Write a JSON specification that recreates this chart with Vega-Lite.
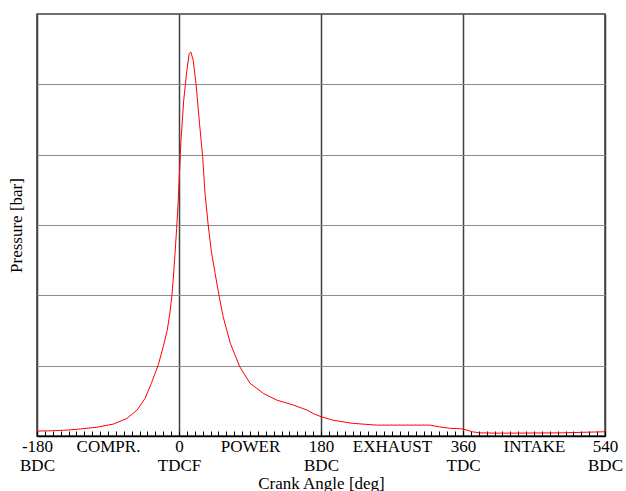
{
  "$schema": "https://vega.github.io/schema/vega-lite/v6.json",
  "autosize": {"type": "none"},
  "padding": {"left": 37, "top": 14, "right": 21, "bottom": 55},
  "width": 568,
  "height": 422,
  "background": "white",
  "config": {
    "font": "Liberation Serif",
    "view": {"stroke": "#404040", "strokeWidth": 1.5}
  },
  "data": {
    "values": [
      {"angle": -180, "pressure": 1.4},
      {"angle": -160, "pressure": 1.5},
      {"angle": -140, "pressure": 1.7},
      {"angle": -125, "pressure": 2.0},
      {"angle": -104, "pressure": 2.5},
      {"angle": -83, "pressure": 3.4},
      {"angle": -66, "pressure": 5.0},
      {"angle": -53, "pressure": 7.4},
      {"angle": -43, "pressure": 10.7},
      {"angle": -35, "pressure": 15.0},
      {"angle": -26, "pressure": 20.4},
      {"angle": -20, "pressure": 25.4},
      {"angle": -15, "pressure": 30.0},
      {"angle": -11.5, "pressure": 35.0},
      {"angle": -9, "pressure": 40.0},
      {"angle": -7, "pressure": 45.5},
      {"angle": -5, "pressure": 52.0},
      {"angle": -3, "pressure": 59.0},
      {"angle": -1.2, "pressure": 66.0},
      {"angle": 0, "pressure": 71.8},
      {"angle": 2.5, "pressure": 84.0},
      {"angle": 6, "pressure": 95.5},
      {"angle": 10, "pressure": 104.0},
      {"angle": 13, "pressure": 108.8},
      {"angle": 15, "pressure": 109.2},
      {"angle": 18, "pressure": 106.9},
      {"angle": 21.5, "pressure": 100.3},
      {"angle": 26, "pressure": 88.9},
      {"angle": 30, "pressure": 79.4},
      {"angle": 33, "pressure": 69.0},
      {"angle": 37, "pressure": 60.0},
      {"angle": 41, "pressure": 52.5},
      {"angle": 45.6, "pressure": 46.5},
      {"angle": 51, "pressure": 39.6},
      {"angle": 56, "pressure": 33.9},
      {"angle": 65, "pressure": 26.4},
      {"angle": 77, "pressure": 19.7},
      {"angle": 90, "pressure": 15.0},
      {"angle": 107, "pressure": 12.1},
      {"angle": 124, "pressure": 10.2},
      {"angle": 145, "pressure": 8.8},
      {"angle": 162, "pressure": 7.4},
      {"angle": 170, "pressure": 6.4},
      {"angle": 180, "pressure": 5.5},
      {"angle": 195, "pressure": 4.5},
      {"angle": 220, "pressure": 3.6},
      {"angle": 250, "pressure": 3.1},
      {"angle": 318, "pressure": 3.1},
      {"angle": 330, "pressure": 2.6},
      {"angle": 343, "pressure": 2.2},
      {"angle": 360, "pressure": 2.0},
      {"angle": 372, "pressure": 1.2},
      {"angle": 381, "pressure": 0.9},
      {"angle": 406, "pressure": 0.8},
      {"angle": 486, "pressure": 0.9},
      {"angle": 520, "pressure": 1.1},
      {"angle": 540, "pressure": 1.2}
    ]
  },
  "mark": {"type": "line", "color": "#ff0000", "strokeWidth": 1, "clip": true},
  "encoding": {
    "x": {
      "field": "angle",
      "type": "quantitative",
      "scale": {"domain": [-180, 540], "nice": false, "zero": false},
      "axis": {
        "title": "Crank Angle [deg]",
        "titleFont": "Liberation Serif",
        "titleFontSize": 17,
        "titleFontWeight": "normal",
        "titleColor": "black",
        "titlePadding": 2,
        "values": [-180,-170,-160,-150,-140,-130,-120,-110,-100,-90,-80,-70,-60,-50,-40,-30,-20,-10,0,10,20,30,40,50,60,70,80,90,100,110,120,130,140,150,160,170,180,190,200,210,220,230,240,250,260,270,280,290,300,310,320,330,340,350,360,370,380,390,400,410,420,430,440,450,460,470,480,490,500,510,520,530,540],
        "labelExpr": "datum.value == -180 ? ['-180','BDC'] : datum.value == -90 ? 'COMPR.' : datum.value == 0 ? ['0','TDCF'] : datum.value == 90 ? 'POWER' : datum.value == 180 ? ['180','BDC'] : datum.value == 270 ? 'EXHAUST' : datum.value == 360 ? ['360','TDC'] : datum.value == 450 ? 'INTAKE' : datum.value == 540 ? ['540','BDC'] : ''",
        "labelFont": "Liberation Serif",
        "labelFontSize": 17,
        "labelColor": "black",
        "labelLineHeight": 19,
        "labelOverlap": false,
        "labelFlush": false,
        "labelBound": false,
        "labelPadding": 7,
        "labelBaseline": "top",
        "tickSize": -5,
        "tickColor": "black",
        "tickWidth": 1,
        "domainColor": "black",
        "domainWidth": 1.5,
        "grid": true,
        "gridColor": "#404040",
        "gridWidth": 1.5,
        "gridOpacity": {"condition": {"test": "datum.value % 180 === 0", "value": 1}, "value": 0}
      }
    },
    "y": {
      "field": "pressure",
      "type": "quantitative",
      "scale": {"domain": [0, 120], "nice": false, "zero": true},
      "axis": {
        "title": "Pressure [bar]",
        "titleFont": "Liberation Serif",
        "titleFontSize": 17,
        "titleFontWeight": "normal",
        "titleColor": "black",
        "titlePadding": 12,
        "values": [20, 40, 60, 80, 100],
        "labels": false,
        "ticks": false,
        "domain": false,
        "grid": true,
        "gridColor": "#8c8c8c",
        "gridWidth": 1.2,
        "gridOpacity": 1
      }
    }
  }
}
